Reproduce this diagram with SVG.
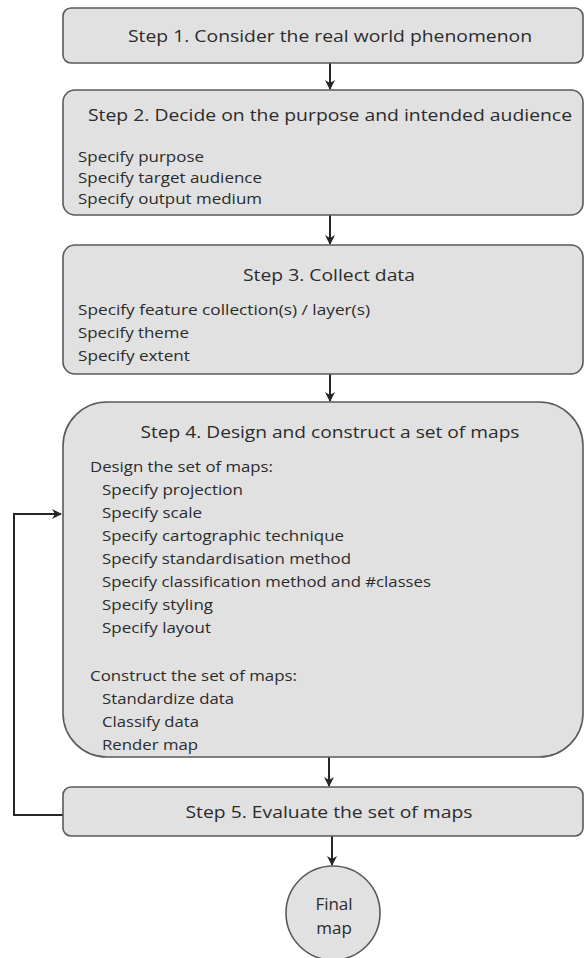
<svg xmlns="http://www.w3.org/2000/svg" width="586" height="958" viewBox="0 0 586 958">
  <style>
    .box { fill: #e1e1e1; stroke: #5a5a5a; stroke-width: 1.6; }
    .title { font-family: "Open Sans", "Liberation Sans", sans-serif; font-size: 17px; fill: #2b2b2b; text-anchor: middle; }
    .item { font-family: "Open Sans", "Liberation Sans", sans-serif; font-size: 15px; fill: #2b2b2b; }
    .link { fill: none; stroke: #262626; stroke-width: 2; }
  </style>
  <defs>
    <marker id="arrow" viewBox="0 0 10 10" refX="9" refY="5" markerWidth="5" markerHeight="5" orient="auto" markerUnits="strokeWidth">
      <path d="M0,0 L10,5 L0,10 L3,5 z" fill="#262626"/>
    </marker>
  </defs>

  <rect width="586" height="958" fill="#ffffff"/>

  <g id="connectors">
    <line class="link" x1="330" y1="63" x2="330" y2="89" marker-end="url(#arrow)"/>
    <line class="link" x1="330" y1="215" x2="330" y2="244" marker-end="url(#arrow)"/>
    <line class="link" x1="330" y1="374" x2="330" y2="401" marker-end="url(#arrow)"/>
    <line class="link" x1="329" y1="757" x2="329" y2="786" marker-end="url(#arrow)"/>
    <line class="link" x1="332" y1="836" x2="332" y2="865" marker-end="url(#arrow)"/>
    <polyline class="link" points="63,815 14,815 14,514 61,514" stroke-width="2.5" marker-end="url(#arrow)"/>
  </g>

  <g id="step1">
    <rect class="box" x="63" y="8" width="520" height="55" rx="8"/>
    <text class="title" x="330" y="42" textLength="404" lengthAdjust="spacingAndGlyphs">Step 1. Consider the real world phenomenon</text>
  </g>

  <g id="step2">
    <rect class="box" x="63" y="90" width="520" height="125" rx="12"/>
    <text class="title" x="330" y="121" textLength="484" lengthAdjust="spacingAndGlyphs">Step 2. Decide on the purpose and intended audience</text>
    <text class="item" x="78" y="162" textLength="126" lengthAdjust="spacingAndGlyphs">Specify purpose</text>
    <text class="item" x="78" y="183" textLength="184" lengthAdjust="spacingAndGlyphs">Specify target audience</text>
    <text class="item" x="78" y="204" textLength="184" lengthAdjust="spacingAndGlyphs">Specify output medium</text>
  </g>

  <g id="step3">
    <rect class="box" x="63" y="245" width="520" height="129" rx="12"/>
    <text class="title" x="329" y="281" textLength="172" lengthAdjust="spacingAndGlyphs">Step 3. Collect data</text>
    <text class="item" x="78" y="315" textLength="292" lengthAdjust="spacingAndGlyphs">Specify feature collection(s) / layer(s)</text>
    <text class="item" x="78" y="338" textLength="111" lengthAdjust="spacingAndGlyphs">Specify theme</text>
    <text class="item" x="78" y="361" textLength="112" lengthAdjust="spacingAndGlyphs">Specify extent</text>
  </g>

  <g id="step4">
    <rect class="box" x="63" y="402" width="520" height="355" rx="44"/>
    <text class="title" x="330" y="438" textLength="379" lengthAdjust="spacingAndGlyphs">Step 4. Design and construct a set of maps</text>
    <text class="item" x="90" y="472" textLength="183" lengthAdjust="spacingAndGlyphs">Design the set of maps:</text>
    <text class="item" x="102" y="495" textLength="141" lengthAdjust="spacingAndGlyphs">Specify projection</text>
    <text class="item" x="102" y="518" textLength="100" lengthAdjust="spacingAndGlyphs">Specify scale</text>
    <text class="item" x="102" y="541" textLength="242" lengthAdjust="spacingAndGlyphs">Specify cartographic technique</text>
    <text class="item" x="102" y="564" textLength="249" lengthAdjust="spacingAndGlyphs">Specify standardisation method</text>
    <text class="item" x="102" y="587" textLength="329" lengthAdjust="spacingAndGlyphs">Specify classification method and #classes</text>
    <text class="item" x="102" y="610" textLength="111" lengthAdjust="spacingAndGlyphs">Specify styling</text>
    <text class="item" x="102" y="633" textLength="109" lengthAdjust="spacingAndGlyphs">Specify layout</text>
    <text class="item" x="90" y="681" textLength="207" lengthAdjust="spacingAndGlyphs">Construct the set of maps:</text>
    <text class="item" x="102" y="704" textLength="132" lengthAdjust="spacingAndGlyphs">Standardize data</text>
    <text class="item" x="102" y="727" textLength="97" lengthAdjust="spacingAndGlyphs">Classify data</text>
    <text class="item" x="102" y="750" textLength="96" lengthAdjust="spacingAndGlyphs">Render map</text>
  </g>

  <g id="step5">
    <rect class="box" x="63" y="787" width="520" height="49" rx="8"/>
    <text class="title" x="329" y="818" textLength="287" lengthAdjust="spacingAndGlyphs">Step 5. Evaluate the set of maps</text>
  </g>

  <g id="final">
    <circle class="box" cx="333" cy="913" r="47"/>
    <text class="title" x="334" y="910">Final</text>
    <text class="title" x="334" y="934">map</text>
  </g>
</svg>
